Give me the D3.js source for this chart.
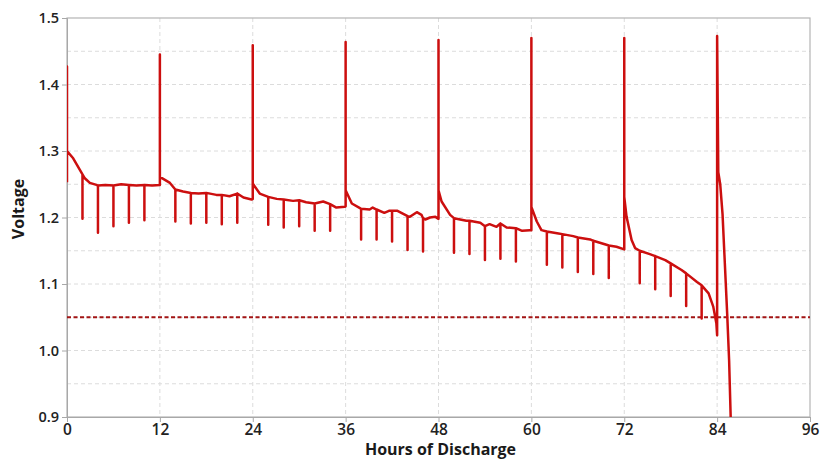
<!DOCTYPE html>
<html>
<head>
<meta charset="utf-8">
<script src="https://cdn.jsdelivr.net/npm/d3@7"></script>
<style>
  body { margin: 0; background: #fff; overflow: hidden; }
  svg { font-family: 'Open Sans', sans-serif; display: block; }
</style>
</head>
<body>
<div class="chart-container" style="width:822px;height:461px"></div>
<script>
// hours on x, volts on y
const xTicks = [0, 12, 24, 36, 48, 60, 72, 84, 96];
const yTicks = [0.9, 1.0, 1.1, 1.2, 1.3, 1.4, 1.5];
const yGrid = [0.95, 1.0, 1.05, 1.1, 1.15, 1.2, 1.25, 1.3, 1.35, 1.4, 1.45];
const cutoff = 1.05;

// main discharge trace [hour, volt]
const trace = [
  [0,1.253],[0,1.427],[0,1.300],[0.8,1.289],[1.7,1.271],[2,1.265],[2.3,1.259],[2.95,1.252],[3.8,1.249],
  [4,1.248],[5,1.249],[6,1.248],[7,1.250],[8,1.249],[9,1.248],[10,1.249],[11,1.248],[12,1.249],
  [12,1.445],[12,1.261],
  [13.3,1.252],[14,1.242],[15,1.239],[16,1.237],[17,1.236],[18,1.237],[19.3,1.234],[20,1.234],
  [21,1.232],[22,1.236],[22.8,1.230],[23.85,1.227],[24,1.228],
  [24,1.459],[24,1.251],
  [24.9,1.236],[26,1.231],[27.1,1.228],[28,1.227],[29.2,1.225],[30,1.226],[30.9,1.223],[32,1.221],
  [33.1,1.224],[34,1.220],[34.8,1.215],[35.9,1.216],[36,1.217],
  [36,1.464],[36,1.241],
  [36.8,1.221],[37.85,1.214],[38,1.213],[39.1,1.212],[39.5,1.215],[40,1.212],[41,1.207],[41.6,1.210],
  [42,1.210],[42.7,1.210],[43.7,1.204],[44,1.202],[44.3,1.201],[45.2,1.208],[45.8,1.204],[46,1.199],
  [46.3,1.197],[46.9,1.200],[47.6,1.201],[48,1.198],
  [48,1.467],[48,1.241],
  [48.4,1.224],[49.5,1.204],[50,1.199],[51.6,1.195],[52,1.195],[53.4,1.192],[54,1.187],[54.6,1.190],
  [55.5,1.186],[56,1.191],[56.8,1.185],[58,1.184],[58.8,1.180],[59.8,1.181],[60,1.181],
  [60,1.470],[60,1.216],
  [60.7,1.194],[61.3,1.181],[62,1.179],[63.5,1.176],[64,1.175],[65.4,1.172],[66,1.170],[67.6,1.167],
  [68,1.165],[69.7,1.159],[70,1.158],[71,1.156],[72,1.152],
  [72,1.470],[72,1.231],
  [72.3,1.201],[72.95,1.166],[73.4,1.154],[74,1.150],[75.3,1.145],[76,1.142],[77.3,1.136],[78,1.131],
  [79.4,1.121],[80,1.116],[81.4,1.103],[82,1.098],[82.9,1.086],[83.5,1.066],[83.9,1.041],[84,1.023],
  [84,1.473],[84.15,1.268],[84.4,1.250],[84.7,1.205],[85,1.130],[85.3,1.055],[85.55,0.985],[85.75,0.900]
];

// load pulses [hour, lowest volt]
const pulses = [
  [2,1.198],[4,1.177],[6,1.187],[8,1.192],[10,1.196],
  [14,1.194],[16,1.191],[18,1.192],[20,1.190],[22,1.192],
  [26,1.189],[28,1.185],[30,1.187],[32,1.180],[34,1.180],
  [38,1.167],[40,1.167],[42,1.164],[44,1.151],[46,1.149],
  [50,1.147],[52,1.145],[54,1.136],[56,1.138],[58,1.134],
  [62,1.129],[64,1.125],[66,1.118],[68,1.115],[70,1.109],
  [74,1.101],[76,1.092],[78,1.082],[80,1.067],[82,1.048]
];

const W = 822, H = 461;
const margin = { t: 18, r: 12, b: 44, l: 67 };
const innerWidth = W - margin.l - margin.r;
const innerHeight = H - margin.t - margin.b;

const x = d3.scaleLinear().domain([0, 96]).range([0, innerWidth]);
const y = d3.scaleLinear().domain([0.9, 1.5]).range([innerHeight, 0]);

// put the pulse drops into the trace
const pulseMap = new Map(pulses.map(d => [d[0], d[1]]));
const series = [];
trace.forEach(d => {
  series.push(d);
  if (pulseMap.has(d[0])) {
    series.push([d[0], pulseMap.get(d[0])]);
    series.push(d);
    pulseMap.delete(d[0]);
  }
});

const svg = d3.select('.chart-container')
  .append('svg')
  .attr('width', W)
  .attr('height', H);

svg.append('defs').append('clipPath').attr('id', 'clip')
  .append('rect').attr('width', innerWidth).attr('height', innerHeight + 1);

const plot = svg.append('g')
  .attr('class', 'plot')
  .attr('transform', `translate(${margin.l}, ${margin.t})`);

// grid
plot.append('g').selectAll('line.hg')
  .data(yGrid)
  .join('line')
  .attr('x1', 0).attr('x2', innerWidth)
  .attr('y1', d => y(d)).attr('y2', d => y(d))
  .attr('stroke', '#dcdcdc').attr('stroke-dasharray', '4,3');

plot.append('g').selectAll('line.vg')
  .data(xTicks.slice(1, -1))
  .join('line')
  .attr('x1', d => x(d)).attr('x2', d => x(d))
  .attr('y1', 0).attr('y2', innerHeight)
  .attr('stroke', '#dcdcdc').attr('stroke-dasharray', '4,3');

// frame
plot.append('rect')
  .attr('width', innerWidth).attr('height', innerHeight)
  .attr('fill', 'none').attr('stroke', '#b4b4b4').attr('stroke-width', 1.2);

// axes
const axisX = d3.axisBottom(x).tickValues(xTicks).tickSize(5).tickFormat(d3.format('d'));
const axisY = d3.axisLeft(y).tickValues(yTicks).tickSize(5).tickFormat(d3.format('.1f'));

const gx = plot.append('g')
  .attr('class', 'axis axis-x')
  .attr('transform', `translate(0, ${innerHeight})`)
  .call(axisX);
gx.select('.domain').attr('stroke', '#a8a8a8');
gx.selectAll('.tick line').attr('stroke', '#a8a8a8');
gx.selectAll('text')
  .attr('y', 7)
  .style('font-family', 'Open Sans')
  .style('font-size', '15.5px')
  .style('font-weight', '600')
  .attr('fill', '#222');

const gy = plot.append('g')
  .attr('class', 'axis axis-y')
  .call(axisY);
gy.select('.domain').attr('stroke', '#a8a8a8');
gy.selectAll('.tick line').attr('stroke', '#a8a8a8');
gy.selectAll('text')
  .attr('x', -8)
  .style('font-family', 'Open Sans')
  .style('font-size', '14.5px')
  .style('font-weight', '600')
  .attr('fill', '#222');

// cutoff line
plot.append('line')
  .attr('x1', 0).attr('x2', innerWidth)
  .attr('y1', y(cutoff)).attr('y2', y(cutoff))
  .attr('stroke', '#a31515').attr('stroke-width', 2.2)
  .attr('stroke-dasharray', '4,2.5');

// voltage trace
const line = d3.line().x(d => x(d[0])).y(d => y(d[1]));
plot.append('path')
  .datum(series)
  .attr('clip-path', 'url(#clip)')
  .attr('d', line)
  .attr('fill', 'none')
  .attr('stroke', '#cc0f0f')
  .attr('stroke-width', 2.5)
  .attr('stroke-linejoin', 'round');

// titles
svg.append('text')
  .attr('x', margin.l + innerWidth / 2 + 2)
  .attr('y', 455)
  .attr('text-anchor', 'middle')
  .style('font-family', 'Open Sans')
  .style('font-size', '16px')
  .style('font-weight', '700')
  .attr('fill', '#1a1a1a')
  .text('Hours of Discharge');

svg.append('text')
  .attr('transform', 'translate(24, 209) rotate(-90)')
  .attr('text-anchor', 'middle')
  .style('font-family', 'Open Sans')
  .style('font-size', '16px')
  .style('font-weight', '700')
  .attr('fill', '#1a1a1a')
  .text('Voltage');
</script>
</body>
</html>
